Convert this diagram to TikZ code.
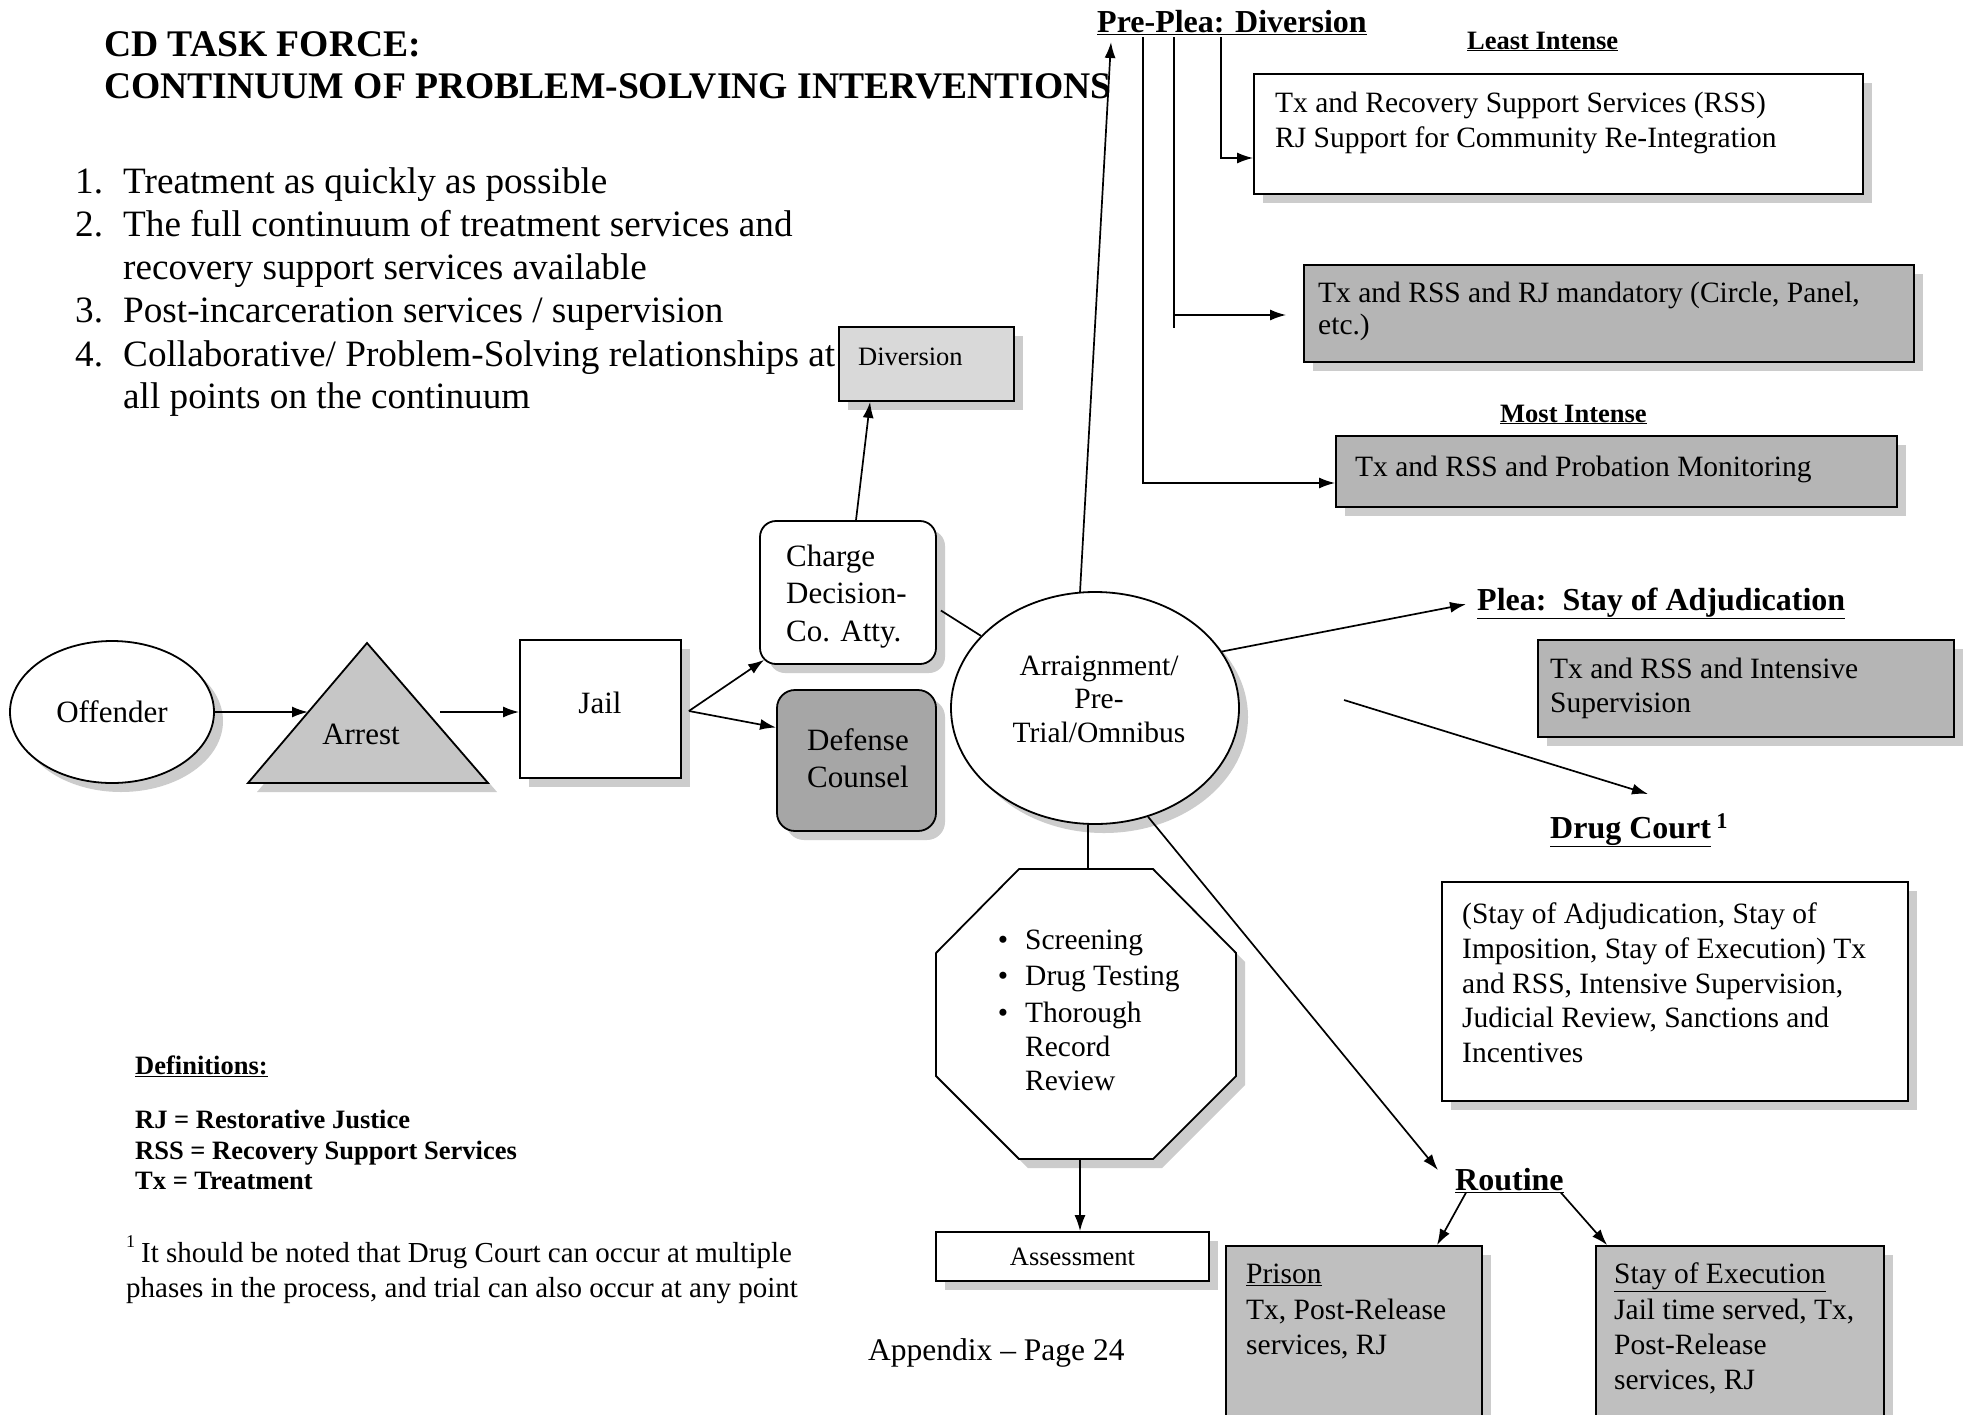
\documentclass[tikz,border=0pt]{standalone}
\usepackage{fontspec}
\setmainfont{Liberation Serif}
\usetikzlibrary{arrows.meta,shadows,calc,shapes.geometric}
\newcommand\fsz[1]{\fontsize{#1}{#1}\selectfont}
\begin{document}
\begin{tikzpicture}[x=1pt,y=-1pt,
  ln/.style={line width=1.7pt},
  arw/.style={line width=1.7pt,-{Latex[length=16pt,width=11pt]}},
  box/.style={draw,line width=1.8pt,inner sep=0pt,fill=white},
  shad/.style={drop shadow={shadow xshift=9pt,shadow yshift=-9pt,fill=gray!40,opacity=1}},
  txt/.style={inner sep=0pt,anchor=base west},
  ctxt/.style={inner sep=0pt,anchor=base},
  tA/.style={font=\fsz{37.2}},
  tB/.style={font=\fsz{31}},
  tC/.style={font=\fsz{29.5}},
  hB/.style={font=\bfseries\fsz{32}},
  hD/.style={font=\bfseries\fsz{26.5}},
]
\fill[white] (0,0) rectangle (1973,1414);
\useasboundingbox (0,0) rectangle (1973,1414);

% title and list
\node[txt,font=\bfseries\fsz{37.6}] (t1) at (104,56) {CD TASK FORCE:};
\node[txt,font=\bfseries\fsz{37.6}] (t2) at (104,98) {CONTINUUM OF PROBLEM-SOLVING INTERVENTIONS};
\node[txt,tA] (n1) at (75,193) {1.};
\node[txt,tA] (l1) at (123,193) {Treatment as quickly as possible};
\node[txt,tA] (n2) at (75,236) {2.};
\node[txt,tA] (l2) at (123,236) {The full continuum of treatment services and};
\node[txt,tA] (l2b) at (123,279) {recovery support services available};
\node[txt,tA] (n3) at (75,322) {3.};
\node[txt,tA] (l3) at (123,322) {Post-incarceration services / supervision};
\node[txt,tA] (n4) at (75,366) {4.};
\node[txt,tA] (l4) at (123,366) {Collaborative/ Problem-Solving relationships at};
\node[txt,tA] (l4b) at (123,408) {all points on the continuum};

% left chain
\node[box,shad,ellipse,minimum width=204pt,minimum height=142pt,tB] (off) at (112,712) {Offender};
\fill[gray!40] (376,652) -- (257,792) -- (497,792) -- cycle;
\filldraw[fill=gray!45,line width=1.8pt] (367,643) -- (248,783) -- (488,783) -- cycle;
\node[ctxt,tB] (arrest) at (361,744) {Arrest};
\coordinate (tl) at (308,712);
\coordinate (tr) at (440,712);
\node[box,shad,minimum width=161pt,minimum height=138pt] (jail) at (600.5,709) {};
\node[ctxt,tB] (jailt) at (600,713) {Jail};

\node[box,shad,fill=gray!30,minimum width=175pt,minimum height=74pt] (div) at (926.5,364) {};
\node[txt,font=\fsz{26.5}] (divt) at (858,365) {Diversion};

\node[box,shad,rounded corners=16pt,minimum width=176pt,minimum height=143pt] (chg) at (848,592.5) {};
\node[txt,tB] (chg1) at (786,566) {Charge};
\node[txt,tB] (chg2) at (786,603) {Decision-};
\node[txt,tB] (chg3) at (786,641) {Co. Atty.};

\node[box,shad,rounded corners=18pt,fill=gray!70,minimum width=159pt,minimum height=141pt] (def) at (856.5,760.5) {};
\node[ctxt,tB] (def1) at (858,750) {Defense};
\node[ctxt,tB] (def2) at (858,787) {Counsel};

\node[box,shad,ellipse,minimum width=288pt,minimum height=232pt] (arg) at (1095,708) {};
\node[align=center,inner sep=0pt,font=\fontsize{29.5}{33.5}\selectfont] (argt) at (1099,699) {Arraignment/\\Pre-\\Trial/Omnibus};

% octagon
\fill[gray!40] (1028,878) -- (1162,878) -- (1245,962) -- (1245,1085) -- (1162,1168) -- (1028,1168) -- (945,1085) -- (945,962) -- cycle;
\filldraw[fill=white,line width=1.8pt] (1019,869) -- (1153,869) -- (1236,953) -- (1236,1076) -- (1153,1159) -- (1019,1159) -- (936,1076) -- (936,953) -- cycle;
\coordinate (octtop) at (1088,869);
\coordinate (octbot) at (1080,1159);
\node[ctxt,tC] (bu1) at (1003,949) {•};
\node[txt,tC] (oc1) at (1025,949) {Screening};
\node[ctxt,tC] (bu2) at (1003,985) {•};
\node[txt,tC] (oc2) at (1025,985) {Drug Testing};
\node[ctxt,tC] (bu3) at (1003,1022) {•};
\node[txt,tC] (oc3) at (1025,1022) {Thorough};
\node[txt,tC] (oc4) at (1025,1056) {Record};
\node[txt,tC] (oc5) at (1025,1090) {Review};

\node[box,shad,minimum width=273pt,minimum height=49pt,font=\fsz{26.5}] (asm) at (1072.5,1256.5) {Assessment};
\node[txt,font=\fsz{31.5}] (app) at (868,1360) {Appendix \textendash{} Page 24};

% definitions and footnote
\node[txt,hD] (defs) at (135,1074) {\underline{Definitions:}};
\node[txt,hD] (d1) at (135,1128) {RJ = Restorative Justice};
\node[txt,hD] (d2) at (135,1159) {RSS = Recovery Support Services};
\node[txt,hD] (d3) at (135,1189) {Tx = Treatment};
\node[txt,font=\fsz{18}] (fn0) at (126,1247) {1};
\node[txt,font=\fsz{29}] (fn1) at (141,1262) {It should be noted that Drug Court can occur at multiple};
\node[txt,font=\fsz{29}] (fn2) at (126,1297) {phases in the process, and trial can also occur at any point};

% right side
\node[txt,hB] (prep) at (1097,32) {\underline{Pre-Plea: Diversion}};
\node[txt,hD] (least) at (1467,49) {\underline{Least Intense}};
\node[box,shad,minimum width=609pt,minimum height=120pt] (bx1) at (1558.5,134) {};
\node[txt,tC] (bx1a) at (1275,112) {Tx and Recovery Support Services (RSS)};
\node[txt,tC] (bx1b) at (1275,147) {RJ Support for Community Re-Integration};

\node[box,shad,fill=gray!58,minimum width=610pt,minimum height=97pt] (bx2) at (1609,313.5) {};
\node[txt,tC] (bx2a) at (1318,302) {Tx and RSS and RJ mandatory (Circle, Panel,};
\node[txt,tC] (bx2b) at (1318,334) {etc.)};

\node[txt,hD] (most) at (1500,422) {\underline{Most Intense}};
\node[box,shad,fill=gray!58,minimum width=561pt,minimum height=71pt] (bx3) at (1616.5,471.5) {};
\node[txt,tC] (bx3a) at (1355,476) {Tx and RSS and Probation Monitoring};

\node[txt,hB] (plea) at (1477,610) {\underline{Plea:\ \ Stay of Adjudication}};
\node[box,shad,fill=gray!58,minimum width=416pt,minimum height=97pt] (bx4) at (1746,688.5) {};
\node[txt,tC] (bx4a) at (1550,678) {Tx and RSS and Intensive};
\node[txt,tC] (bx4b) at (1550,712) {Supervision};

\node[txt,hB] (dc) at (1550,838) {\underline{Drug Court}\,\textsuperscript{1}};
\node[box,shad,minimum width=466pt,minimum height=219pt] (bx5) at (1675,991.5) {};
\node[txt,tC] (bx5a) at (1462,923) {(Stay of Adjudication, Stay of};
\node[txt,tC] (bx5b) at (1462,958) {Imposition, Stay of Execution) Tx};
\node[txt,tC] (bx5c) at (1462,993) {and RSS, Intensive Supervision,};
\node[txt,tC] (bx5d) at (1462,1027) {Judicial Review, Sanctions and};
\node[txt,tC] (bx5e) at (1462,1062) {Incentives};

\node[txt,hB] (rt) at (1455,1190) {\underline{Routine}};
\node[box,shad,fill=gray!50,minimum width=256pt,minimum height=178pt] (pri) at (1354,1335) {};
\node[txt,tC] (pri1) at (1246,1283) {\underline{Prison}};
\node[txt,tC] (pri2) at (1246,1319) {Tx, Post-Release};
\node[txt,tC] (pri3) at (1246,1354) {services, RJ};
\node[box,shad,fill=gray!50,minimum width=288pt,minimum height=178pt] (sty) at (1740,1335) {};
\node[txt,tC] (sty1) at (1614,1283) {\underline{Stay of Execution}};
\node[txt,tC] (sty2) at (1614,1319) {Jail time served, Tx,};
\node[txt,tC] (sty3) at (1614,1354) {Post-Release};
\node[txt,tC] (sty4) at (1614,1389) {services, RJ};

% connectors
\draw[arw] (off.east) -- (tl);
\draw[arw] (tr) -- (jail.west |- tr);
\coordinate (js) at ($(jail.east)+(7,2)$);
\draw[arw] (js) -- ($(chg.south west)+(5,-5)$);
\draw[arw] (js) -- ($(def.west)+(0,-33)$);
\draw[arw] ($(chg.north)+(8,0)$) -- ($(div.south west)+(32,0)$);
\draw[ln] ($(chg.east)+(4,18)$) -- (arg);
\coordinate (preptip) at (1111,42);
\draw[arw] ($(arg.north)+(-15,1)$) -- (preptip);

\coordinate (b1) at (1221,37);
\coordinate (b2) at (1174,37);
\coordinate (b3) at (1143,37);
\coordinate (b2e) at (1174,328);
\coordinate (y1) at (0,158);
\coordinate (y2) at (0,315);
\coordinate (y3) at (0,483);
\draw[arw] (b1) |- (bx1.west |- y1);
\draw[ln] (b2) -- (b2e);
\draw[arw,shorten >=17pt] (b2 |- y2) -- (bx2.west |- y2);
\draw[arw] (b3) |- (bx3.west |- y3);

\draw[arw] (arg.24) -- ($(plea.west)+(-11,1)$);
\coordinate (ds) at (1344,700);
\coordinate (dctip) at (1648,794);
\draw[arw] (ds) -- (dctip);
\draw[arw] (arg.-64) -- ($(rt.west)+(-17,-10)$);
\draw[arw] ($(rt.south west)+(11,0)$) -- ($(pri.north)+(83,0)$);
\draw[arw] ($(rt.south east)+(-3,0)$) -- ($(sty.north west)+(12,0)$);
\draw[ln] (arg.south -| octtop) -- (octtop);
\draw[arw] (octbot) -- (asm.north -| octbot);
\end{tikzpicture}
\end{document}
